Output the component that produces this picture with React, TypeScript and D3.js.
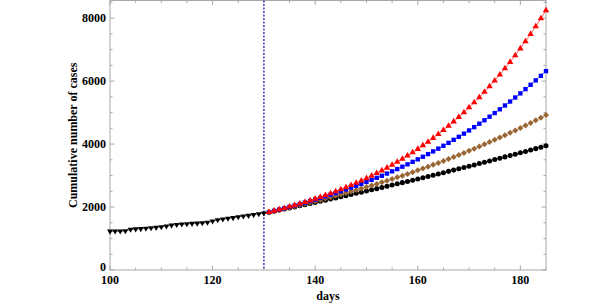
import React, { useEffect, useRef } from 'react';
import * as d3 from 'd3';

// observed cumulative cases, days 100..130
const observedDays = d3.range(100, 131);
const observed = [
    1230, 1232, 1235, 1240, 1290, 1300, 1310, 1322, 1335, 1350,
    1370, 1395, 1420, 1440, 1455, 1465, 1475, 1485, 1495, 1510,
    1550, 1590, 1615, 1640, 1660, 1685, 1710, 1730, 1755, 1780,
    1805,
];

// projected scenarios, days 131..185
const forecastDays = d3.range(131, 186);
const redSeries = [
    1839, 1880, 1921, 1965, 2010, 2056, 2105, 2155, 2206, 2260,
    2315, 2373, 2432, 2494, 2558, 2624, 2693, 2764, 2837, 2913,
    2992, 3074, 3158, 3246, 3337, 3431, 3528, 3629, 3733, 3842,
    3954, 4070, 4190, 4314, 4443, 4577, 4715, 4858, 5007, 5161,
    5320, 5485, 5655, 5832, 6015, 6205, 6402, 6605, 6816, 7034,
    7261, 7495, 7737, 7989, 8249,
];
const blueSeries = [
    1839, 1879, 1920, 1962, 2005, 2049, 2095, 2141, 2189, 2237,
    2287, 2339, 2391, 2445, 2500, 2557, 2615, 2674, 2735, 2797,
    2861, 2927, 2994, 3063, 3134, 3206, 3281, 3357, 3435, 3515,
    3597, 3681, 3767, 3855, 3946, 4038, 4134, 4231, 4331, 4433,
    4538, 4646, 4756, 4869, 4985, 5104, 5226, 5351, 5479, 5610,
    5744, 5882, 6023, 6168, 6317,
];
const brownSeries = [
    1836, 1872, 1909, 1947, 1985, 2023, 2063, 2103, 2143, 2185,
    2227, 2269, 2313, 2357, 2401, 2447, 2493, 2540, 2587, 2636,
    2685, 2735, 2786, 2837, 2890, 2943, 2997, 3052, 3108, 3165,
    3222, 3281, 3340, 3401, 3462, 3525, 3588, 3653, 3718, 3785,
    3852, 3921, 3991, 4062, 4134, 4207, 4282, 4357, 4434, 4512,
    4591, 4672, 4754, 4837, 4921,
];
const blackSeries = [
    1834, 1868, 1902, 1936, 1970, 2005, 2040, 2075, 2110, 2145,
    2181, 2216, 2252, 2288, 2325, 2361, 2398, 2435, 2472, 2509,
    2546, 2584, 2622, 2660, 2698, 2737, 2775, 2814, 2853, 2892,
    2932, 2972, 3012, 3052, 3092, 3133, 3173, 3214, 3255, 3297,
    3338, 3380, 3422, 3465, 3507, 3550, 3593, 3636, 3679, 3723,
    3767, 3811, 3855, 3900, 3944,
];

const xTickLabels = [100, 120, 140, 160, 180];
const yTickLabels = [0, 2000, 4000, 6000, 8000];
const cutoffDay = 130;

const FONT = "'Liberation Serif', 'Times New Roman', serif";

const App = () => {
    const svgRef = useRef();

    useEffect(() => {
        const svg = d3.select(svgRef.current);
        svg.selectAll('*').remove();

        const width = 611;
        const height = 306;
        const margin = { top: 0.5, right: 65, bottom: 36, left: 110 };

        const x = d3.scaleLinear()
            .domain([100, 185])
            .range([margin.left, width - margin.right]);
        const y = d3.scaleLinear()
            .domain([0, 8560])
            .range([height - margin.bottom, margin.top]);

        const [x0, x1] = x.range();
        const [y0, y1] = y.range();
        const frameColor = '#a8a8a8';

        // ticks (inward, mirrored on all sides)
        const xMinor = d3.range(100, 186, 5);
        const yMinor = d3.range(0, 8561, 500);
        const g = svg.append('g');
        xMinor.forEach(v => {
            const len = v % 20 === 0 ? 4.5 : 2.5;
            g.append('line').attr('x1', x(v)).attr('x2', x(v)).attr('y1', y0).attr('y2', y0 - len)
                .attr('stroke', frameColor);
            g.append('line').attr('x1', x(v)).attr('x2', x(v)).attr('y1', y1).attr('y2', y1 + len)
                .attr('stroke', frameColor);
        });
        yMinor.forEach(v => {
            const len = v % 2000 === 0 ? 4.5 : 2.5;
            g.append('line').attr('x1', x0).attr('x2', x0 + len).attr('y1', y(v)).attr('y2', y(v))
                .attr('stroke', frameColor);
            g.append('line').attr('x1', x1).attr('x2', x1 - len).attr('y1', y(v)).attr('y2', y(v))
                .attr('stroke', frameColor);
        });

        g.append('rect')
            .attr('x', x0).attr('y', y1)
            .attr('width', x1 - x0).attr('height', y0 - y1)
            .attr('fill', 'none').attr('stroke', frameColor).attr('stroke-width', 1);

        // tick labels
        svg.selectAll('.xlab').data(xTickLabels).join('text')
            .attr('class', 'xlab')
            .attr('x', d => x(d)).attr('y', 284)
            .attr('text-anchor', 'middle')
            .attr('font-family', FONT).attr('font-weight', 'bold').attr('font-size', 12)
            .text(d => d);
        svg.selectAll('.ylab').data(yTickLabels).join('text')
            .attr('class', 'ylab')
            .attr('x', 106).attr('y', d => (d === 0 ? y(d) + 1 : y(d) + 4))
            .attr('text-anchor', 'end')
            .attr('font-family', FONT).attr('font-weight', 'bold').attr('font-size', 12)
            .text(d => d);

        // axis titles
        svg.append('text')
            .attr('x', (x0 + x1) / 2).attr('y', 300)
            .attr('text-anchor', 'middle')
            .attr('font-family', FONT).attr('font-weight', 'bold').attr('font-size', 12)
            .text('days');
        svg.append('text')
            .attr('transform', `translate(77,${(y0 + y1) / 2}) rotate(-90)`)
            .attr('text-anchor', 'middle')
            .attr('font-family', FONT).attr('font-weight', 'bold').attr('font-size', 12)
            .text('Cumulative number of cases');

        // cutoff line
        svg.append('line')
            .attr('x1', x(cutoffDay)).attr('x2', x(cutoffDay))
            .attr('y1', y1).attr('y2', y0)
            .attr('stroke', '#4848b8').attr('stroke-width', 1.6)
            .attr('stroke-dasharray', '2,1.5');

        const line = d3.line().x(d => x(d[0])).y(d => y(d[1]));

        const series = [
            { days: forecastDays, values: blackSeries, color: '#000000', shape: d3.symbolCircle, size: 20, rot: 0 },
            { days: forecastDays, values: brownSeries, color: '#996633', shape: d3.symbolSquare, size: 18, rot: 45 },
            { days: forecastDays, values: blueSeries, color: '#0000ff', shape: d3.symbolSquare, size: 19, rot: 0 },
            { days: forecastDays, values: redSeries, color: '#ff0000', shape: d3.symbolTriangle, size: 18, rot: 0 },
            { days: observedDays, values: observed, color: '#000000', shape: d3.symbolTriangle, size: 15, rot: 180 },
        ];

        series.forEach(s => {
            const pts = s.days.map((d, i) => [d, s.values[i]]);
            svg.append('path')
                .attr('d', line(pts))
                .attr('fill', 'none')
                .attr('stroke', s.color)
                .attr('stroke-opacity', 0.6)
                .attr('stroke-width', 1);
            svg.append('g').selectAll('path').data(pts).join('path')
                .attr('d', d3.symbol().type(s.shape).size(s.size))
                .attr('transform', d => `translate(${x(d[0])},${y(d[1])}) rotate(${s.rot})`)
                .attr('fill', s.color);
        });
    }, []);

    return (
        <svg ref={svgRef} width={611} height={306}
            style={{ position: 'absolute', left: 0, top: 0, background: '#fff' }}></svg>
    );
};

export default App;
